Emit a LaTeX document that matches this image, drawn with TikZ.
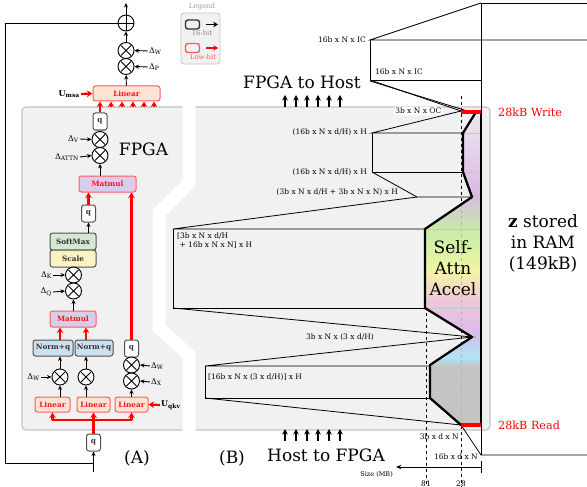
\documentclass[tikz,border=0pt]{standalone}
\usepackage{fontspec}
\setmainfont{DejaVu Serif}
\usetikzlibrary{arrows.meta}

\definecolor{panelfill}{HTML}{F1F1F1}
\definecolor{panelline}{HTML}{C4C4C4}
\definecolor{lowred}{HTML}{F21818}
\definecolor{lowedge}{HTML}{FF5C5C}
\definecolor{linfill}{HTML}{FDE2D6}
\definecolor{mmfill}{HTML}{D9CDE9}
\definecolor{smfill}{HTML}{D4E8D2}
\definecolor{scfill}{HTML}{FDF2C4}
\definecolor{nqfill}{HTML}{CDE0F1}
\definecolor{boxedge}{HTML}{505050}
\definecolor{lgtext}{HTML}{8A8A8A}
\definecolor{lgred}{HTML}{FF5A5A}
\definecolor{accA}{HTML}{EEEBEF}
\definecolor{accB}{HTML}{E4D2EA}
\definecolor{accC}{HTML}{D9B9E3}
\definecolor{accD}{HTML}{C6EBAA}
\definecolor{accE}{HTML}{D9F2A2}
\definecolor{accF}{HTML}{F5F4A6}
\definecolor{accG}{HTML}{EFC8DA}
\definecolor{accH}{HTML}{DDBBE8}
\definecolor{accI}{HTML}{AEE5F4}
\definecolor{accJ}{HTML}{C4C4C4}

\begin{document}
\begin{tikzpicture}[x=1pt,y=-1pt,
  blk/.style={-{Stealth[length=4.5pt,width=4pt]}, line width=0.9pt},
  blkup/.style={-{Stealth[length=5.5pt,width=5.5pt]}, line width=1.4pt},
  redarr/.style={draw=red, line width=2.2pt, -{Stealth[length=5.5pt,width=6.5pt]}},
  redline/.style={draw=red, line width=2.2pt},
  bx/.style={inner sep=0pt, rounded corners=2.5pt, line width=1pt, font=\fontsize{7.3}{8}\selectfont\bfseries},
  linbox/.style={bx, draw=lowedge, fill=linfill, text=lowred, minimum height=15pt},
  mmbox/.style={bx, draw=lowedge, fill=mmfill, text=lowred, minimum height=16pt},
  qbox/.style={bx, draw=boxedge, fill=white, text=black!80, minimum width=14pt, minimum height=17pt},
  smbox/.style={bx, draw=boxedge, fill=smfill, text=black!80, minimum width=46pt, minimum height=17pt},
  scbox/.style={bx, draw=boxedge, fill=scfill, text=black!80, minimum width=46pt, minimum height=17pt},
  nqbox/.style={bx, draw=boxedge, fill=nqfill, text=black!80, minimum height=16pt},
  mulop/.style={circle, draw, fill=white, line width=0.9pt, minimum size=16pt, inner sep=0pt,
    path picture={\draw[line width=0.9pt]
      ([shift={(-5pt,-5pt)}]path picture bounding box.center) -- ([shift={(5pt,5pt)}]path picture bounding box.center)
      ([shift={(-5pt,5pt)}]path picture bounding box.center) -- ([shift={(5pt,-5pt)}]path picture bounding box.center);}},
  addop/.style={circle, draw, fill=white, line width=0.9pt, minimum size=16pt, inner sep=0pt,
    path picture={\draw[line width=0.9pt]
      ([shift={(-8pt,0pt)}]path picture bounding box.center) -- ([shift={(8pt,0pt)}]path picture bounding box.center)
      ([shift={(0pt,-8pt)}]path picture bounding box.center) -- ([shift={(0pt,8pt)}]path picture bounding box.center);}},
  dlab/.style={inner sep=1pt, font=\fontsize{8}{9}\selectfont},
  sml/.style={inner sep=1pt, font=\fontsize{7.5}{9}\selectfont},
  bigt/.style={inner sep=0pt, font=\fontsize{17}{21}\selectfont, align=center},
  lyr/.style={line width=0.8pt},
  inacc/.style={line width=0.6pt, draw=black!22},
  prof/.style={line width=2.3pt, line join=round},
]
\useasboundingbox (0,0) rectangle (587,487);

% ---------- shared grey background, split by a white gap ----------
\draw[fill=panelfill, draw=panelline, line width=1.2pt, rounded corners=4pt] (22,107) rectangle (490,430);
\draw[white, line width=13pt, line cap=butt, line join=miter]
  (189,99) -- (189,183) -- (159,213) -- (159,328) -- (189,355) -- (189,438);

% ---------- legend ----------
\node[draw=panelline, fill=panelfill, rounded corners=3pt, line width=0.8pt,
      minimum width=39pt, minimum height=51pt, inner sep=0pt] (lgd) at (200.5,38.5) {};
\node[sml, text=black!38, font=\fontsize{7}{8}\selectfont] (lgt) at (202,6.5) {Legend};
\node[draw=black!80, line width=1.4pt, rounded corners=2.5pt, minimum width=14pt, minimum height=9pt, inner sep=0pt] (lgb) at (192.5,24.5) {};
\draw[line width=1.4pt, -{Stealth[length=5pt,width=5.5pt]}] ([xshift=6pt]lgb.east) -- ++(12,0);
\node[sml, text=lgtext, font=\fontsize{6.8}{8}\selectfont] (lgbt) at (202,33) {16-bit};
\node[draw=lgred, line width=1.4pt, rounded corners=2.5pt, minimum width=14pt, minimum height=9pt, inner sep=0pt] (lgr) at (192.5,48) {};
\draw[red, line width=1.4pt, -{Stealth[length=5pt,width=5.5pt]}] ([xshift=6pt]lgr.east) -- ++(12,0);
\node[sml, text=lgred, font=\fontsize{6.8}{8}\selectfont] (lgrt) at (203,57) {Low-bit};

% ---------- (A) attention block ----------
\node[addop] (add) at (126,23) {};
\coordinate (outT) at (126,3);
\node[mulop] (mW) at (126,50.5) {};
\node[mulop] (mP) at (126,66.5) {};
\node[linbox, minimum width=67pt] (linO) at (126.5,93.5) {Linear};
\node[dlab, anchor=west] (dW1) at (148,51) {Δ\textsubscript{W}};
\node[dlab, anchor=west] (dP) at (148,67) {Δ\textsubscript{P}};
\node[dlab, anchor=east] (uMsa) at (81,94) {\textbf{U\textsubscript{msa}}};
\draw[blk] (mW) -- (add);
\draw[blk] (add) -- (outT);
\draw[blk] (linO) -- (mP);
\draw[blk] (dW1.west) -- (mW.east);
\draw[blk] (dP.west) -- (mP.east);
\draw[redarr] (uMsa.east) -- (linO.west);

% heads leaving the accelerator
\foreach \i/\x in {1/111,2/122,3/133,4/144,5/154} {
  \coordinate (hd\i) at (\x,107);
  \draw[redarr] (hd\i) -- (hd\i |- linO.south);
}

\node[qbox] (qO) at (100,121.5) {q};
\node[mulop] (mV) at (100,139.5) {};
\node[mulop] (mA) at (100,155.5) {};
\node[dlab, anchor=east] (dV) at (80,139) {Δ\textsubscript{V}};
\node[dlab, anchor=east] (dA) at (80,157) {Δ\textsubscript{ATTN}};
\draw[redarr] (qO) -- (qO |- linO.south);
\draw[blk] (dV.east) -- (mV.west);
\draw[blk] (dA.east) -- (mA.west);
\node[bigt] (fpga) at (143.5,149) {FPGA};

\node[mmbox, minimum width=57pt] (mmU) at (107.5,184) {Matmul};
\draw[blk] (mmU.north -| mA.south) -- (mA.south);

\node[qbox] (qS) at (88.5,213.5) {q};
\draw[redarr] (qS) -- (qS |- mmU.south);
\node[smbox] (soft) at (73,241.5) {SoftMax};
\node[scbox] (scl) at (73,258.5) {Scale};
\draw[blk] (soft.north -| qS.south) -- (qS.south);
\node[mulop] (mK) at (73.5,275) {};
\node[mulop] (mQ) at (73.5,291) {};
\node[dlab, anchor=east] (dK) at (53,275) {Δ\textsubscript{K}};
\node[dlab, anchor=east] (dQ) at (53,292) {Δ\textsubscript{Q}};
\draw[blk] (dK.east) -- (mK.west);
\draw[blk] (dQ.east) -- (mQ.west);
\node[mmbox, minimum width=46pt] (mmL) at (73,319) {Matmul};
\draw[blk] (mmL.north -| mQ.south) -- (mQ.south);

\node[nqbox, minimum width=40pt] (nqL) at (53,348) {Norm+q};
\node[nqbox, minimum width=38pt] (nqR) at (94,348) {Norm+q};
\node[mulop] (mxL) at (60,377) {};
\node[mulop] (mxR) at (86,377) {};
\draw[redarr] (mxL |- nqL.north) -- (mxL |- mmL.south);
\draw[redarr] (mxR |- nqR.north) -- (mxR |- mmL.south);
\draw[blk] (mxL) -- (mxL |- nqL.south);
\draw[blk] (mxR) -- (mxR |- nqR.south);
\node[dlab, anchor=east] (dWL) at (41,377) {Δ\textsubscript{W}};
\draw[blk] (dWL.east) -- (mxL.west);

\node[qbox] (qR) at (131.5,348.5) {q};
\node[mulop] (mR1) at (131.5,365) {};
\node[mulop] (mR2) at (131.5,381) {};
\draw[redarr] (qR.north) -- (qR.north |- mmU.south);
\node[dlab, anchor=west] (dWR) at (150,366) {Δ\textsubscript{W}};
\node[dlab, anchor=west] (dX) at (150,382) {Δ\textsubscript{X}};
\draw[blk] (dWR.west) -- (mR1.east);
\draw[blk] (dX.west) -- (mR2.east);

\node[linbox, minimum width=35pt] (linL) at (52.5,404.5) {Linear};
\node[linbox, minimum width=33pt] (linM) at (93.5,404.5) {Linear};
\node[linbox, minimum width=33pt] (linR) at (131.5,404.5) {Linear};
\draw[blk] (mxL |- linL.north) -- (mxL.south);
\draw[blk] (mxR |- linM.north) -- (mxR.south);
\draw[blk] (linR) -- (mR2);
\node[dlab, anchor=west] (uQkv) at (160,405) {\textbf{U\textsubscript{qkv}}};
\draw[redarr] (uQkv.west) -- (linR.east);

\node[qbox] (qIn) at (93.5,442.5) {q};
\coordinate (bus) at (93.5,420);
\draw[redline] (qIn.north) -- (bus);
\draw[redline, line cap=round] (linL.south |- bus) -- (linR.south |- bus);
\draw[redarr] (linL.south |- bus) -- (linL.south);
\draw[redarr] (bus) -- (linM.south);
\draw[redarr] (linR.south |- bus) -- (linR.south);
\coordinate (inB) at (93.5,472);
\coordinate (resJ) at (93.5,463);
\draw[blk] (inB) -- (qIn.south);
\draw[line width=0.9pt] (add.west) -- (5,23) |- (resJ);

\node[bigt] (labA) at (137,458) {(A)};

% ---------- (B) memory profile ----------
\node[bigt] (f2h) at (302,82) {FPGA to Host};
\node[bigt] (h2f) at (326,455) {Host to FPGA};
\node[bigt] (labB) at (232,458) {(B)};
\foreach \i/\x in {1/285,2/296,3/307,4/318,5/329,6/340} {
  \coordinate (ou\i) at (\x,107);
  \coordinate (in\i) at (\x,441);
  \draw[blkup] (ou\i) -- ++(0,-12);
  \draw[blkup] (in\i) -- ++(0,-12);
}

% size axis guides
\draw[dashed, line width=0.6pt] (461,96) -- (461,487);
\draw[dashed, line width=0.6pt] (426,229) -- (426,487);

% accelerator footprint, coloured by stage
\begin{scope}
  \clip (481,112) -- (476,112) -- (463,133) -- (463,172) -- (472,197) -- (425,229) -- (425,308)
        -- (472,337) -- (430,365) -- (430,398) -- (461,425) -- (481,425) -- cycle;
  \shade[top color=accA, bottom color=accB] (420,111) rectangle (482,150);
  \shade[top color=accB, bottom color=accC] (420,150) rectangle (482,195);
  \shade[top color=accC, bottom color=accD] (420,195) rectangle (482,229);
  \shade[top color=accD, bottom color=accE] (420,229) rectangle (482,250);
  \shade[top color=accE, bottom color=accF] (420,250) rectangle (482,272);
  \shade[top color=accF, bottom color=accG] (420,272) rectangle (482,300);
  \shade[top color=accG, bottom color=accH] (420,300) rectangle (482,330);
  \shade[top color=accH, bottom color=accI] (420,330) rectangle (482,358);
  \shade[top color=accI, bottom color=accJ] (420,358) rectangle (482,366);
  \fill[accJ] (420,366) rectangle (482,426);
  \draw[dashed, line width=0.6pt, black!30] (461,96) -- (461,487);
  \draw[inacc] (463,133) -- (481,133);
  \draw[inacc] (463,172) -- (481,172);
  \draw[inacc] (472,197) -- (481,197);
  \draw[inacc] (425,229) -- (481,229);
  \draw[inacc] (425,308) -- (481,308);
  \draw[inacc] (430,366) -- (481,366);
  \draw[inacc] (430,398) -- (481,398);
\end{scope}

% RAM block and layer-by-layer tensor sizes
\coordinate (r0) at (481,3);
\coordinate (a1) at (370,40);
\coordinate (a2) at (370,80);
\coordinate (w0) at (461,111);
\coordinate (b1) at (372,133);
\coordinate (b2) at (372,172);
\coordinate (c1) at (417,197);
\coordinate (d1) at (173,229);
\coordinate (d2) at (173,308);
\coordinate (e1) at (472,337);
\coordinate (f1) at (205,366);
\coordinate (f2) at (205,398);
\coordinate (g1) at (461,425);
\coordinate (g2) at (481,455);

\draw[lyr] (r0) -- (587,3);
\draw[lyr] (r0) -- (a1) -- (587,40);
\draw[lyr] (a1) -- (a2) -- (481,80);
\draw[lyr] (a2) -- (w0);
\draw[lyr] (370,81) -- (469,111.5);
\draw[lyr] (r0) -- (481,112);
\draw[lyr] (w0) -- (b1) -- (463,133);
\draw[lyr] (b1) -- (b2) -- (463,172);
\draw[lyr] (b2) -- (c1) -- (472,197);
\draw[lyr] (c1) -- (d1) -- (425,229);
\draw[lyr] (d1) -- (d2) -- (425,308);
\draw[lyr] (d2) -- (e1) -- (f1) -- (430,366);
\draw[lyr] (f1) -- (f2) -- (430,398);
\draw[lyr] (f2) -- (g1) -- (g2) -- (587,455);
\draw[lyr] (481,425) -- (g2);

% accelerator outline
\draw[prof] (476,112) -- (463,133) -- (463,172) -- (472,197) -- (425,229) -- (425,308)
  -- (472,337) -- (430,365) -- (430,398) -- (461,425);
\draw[prof] (481,112) -- (481,425);
\draw[red, line width=4.5pt] (w0 |- 0,112) -- (481,112);
\draw[red, line width=4.5pt] (g1) -- (481,425);

% size axis
\draw[line width=0.8pt, -{Stealth[length=5.5pt,width=4.5pt]}] (481,467) -- (396,467);
\draw[line width=0.8pt] (481,461) -- (481,473);
\node[sml, anchor=east, font=\fontsize{6.5}{8}\selectfont] (sz) at (394,475) {Size (MB)};
\node[sml, anchor=south, inner sep=0.5pt] (t81) at (426,487) {81};
\node[sml, anchor=south, inner sep=0.5pt] (t28) at (461,487) {28};

% size labels
\node[sml, anchor=east] (l1) at (367,40) {16b x N x IC};
\node[sml, anchor=west] (l2) at (374,72) {16b x N x IC};
\node[sml, anchor=east, fill=white, rounded corners=3pt, inner sep=1.5pt] (l3) at (443,111) {3b x N x OC};
\node[sml, anchor=east] (l4) at (368,132) {(16b x N x d/H) x H};
\node[sml, anchor=east] (l5) at (368,172) {(16b x N x d/H) x H};
\node[sml, anchor=east] (l6) at (399,192.5) {(3b x N x d/H + 3b x N x N) x H};
\node[sml, anchor=north west, align=left] (l7) at (176,232) {[3b x N x d/H\\\ + 16b x N x N] x H};
\node[sml, anchor=east] (l8) at (375,337) {3b x N x (3 x d/H)};
\node[sml, anchor=west] (l9) at (207,377.5) {[16b x N x (3 x d/H)] x H};
\node[sml, anchor=east] (l10) at (460,437) {3b x d x N};
\node[sml, anchor=east] (l11) at (479,457) {16b x d x N};

\node[inner sep=0pt, font=\fontsize{11.2}{13}\selectfont, text=red, anchor=west] (wr) at (498,112) {28kB Write};
\node[inner sep=0pt, font=\fontsize{11.2}{13}\selectfont, text=red, anchor=west] (rd) at (498,425) {28kB Read};
\node[bigt] (acc) at (453,268) {Self-\\Attn\\Accel};
\node[bigt] (ram) at (543,243) {\textbf{z} stored\\in RAM\\(149kB)};
\end{tikzpicture}
\end{document}
